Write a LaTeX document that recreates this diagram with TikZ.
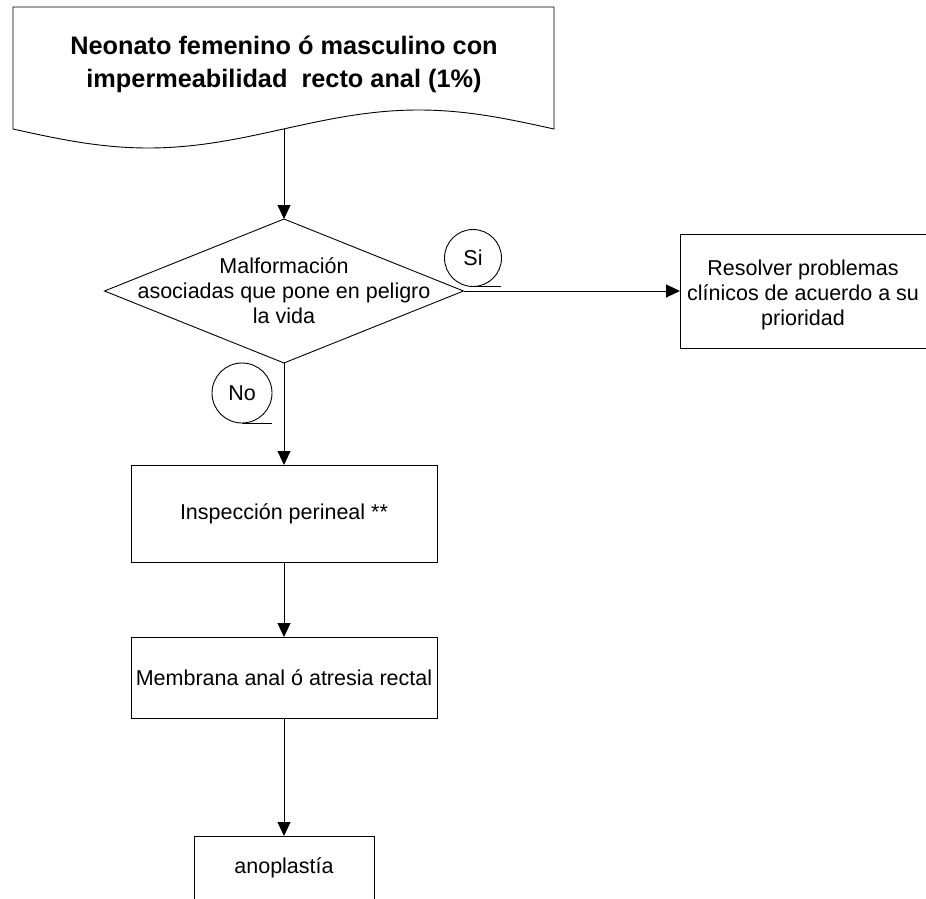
\documentclass[tikz,border=0pt]{standalone}
\usepackage{fontspec}
\setmainfont{Liberation Sans}
\usetikzlibrary{shapes.geometric,arrows.meta}
\begin{document}
\begin{tikzpicture}[x=1pt,y=-1pt,
  line width=0.9pt,
  every node/.style={inner sep=0pt,outer sep=0pt},
  body/.style={font=\fontsize{21.5}{25}\selectfont,align=center},
  procbox/.style={draw,rectangle,body},
  tag/.style={draw,circle,body},
  flow/.style={-{Triangle[length=14pt,width=13pt]}}
]
\useasboundingbox (0,0) rectangle (926,899);
% title document shape
\draw (13,129) -- (13,7) -- (554,7) -- (554,129)
      sin (418.75,110) cos (283.5,129) sin (148.25,148) cos (13,129);
\node[align=center,font=\fontsize{25.3}{33}\selectfont\bfseries] (title) at (284,64)
  {Neonato femenino ó masculino con\\impermeabilidad\ \ recto anal (1\%)};
\coordinate (tb) at (284,129);
% decision
\node[draw,diamond,minimum width=359pt,minimum height=144pt] (dia) at (284,291) {};
\node[body] (diat) at (284,291) {Malformación\\asociadas que pone en peligro\\la vida};
% Si / No tags
\node[tag,minimum size=57pt] (si) at (473,258) {Si};
\draw (si.south) -- ++(28,0);
\node[tag,minimum size=60pt] (no) at (242,393) {No};
\draw (no.south) -- ++(30,0);
% right box (open on the right, at the picture edge)
\node[minimum width=246pt,minimum height=114pt] (res) at (803,291) {};
\node[body] (rest) at (803,295) {Resolver problemas\\clínicos de acuerdo a su\\prioridad};
\draw (res.north east) -- (res.north west) -- (res.south west) -- (res.south east);
% process boxes
\node[procbox,minimum width=306pt,minimum height=97pt] (insp) at (284,513.5) {Inspección perineal **};
\node[procbox,minimum width=306pt,minimum height=81pt] (memb) at (284,677.5) {Membrana anal ó atresia rectal};
\node[body,minimum width=180pt,minimum height=64pt] (anop) at (284,868) {anoplastía};
\draw (anop.south west) -- (anop.north west) -- (anop.north east) -- (anop.south east);
% connectors
\draw[flow] (tb) -- (dia.north);
\draw[flow] (dia.east) -- (res.west);
\draw[flow] (dia.south) -- (insp.north);
\draw[flow] (insp.south) -- (memb.north);
\draw[flow] (memb.south) -- (anop.north);
\end{tikzpicture}
\end{document}
